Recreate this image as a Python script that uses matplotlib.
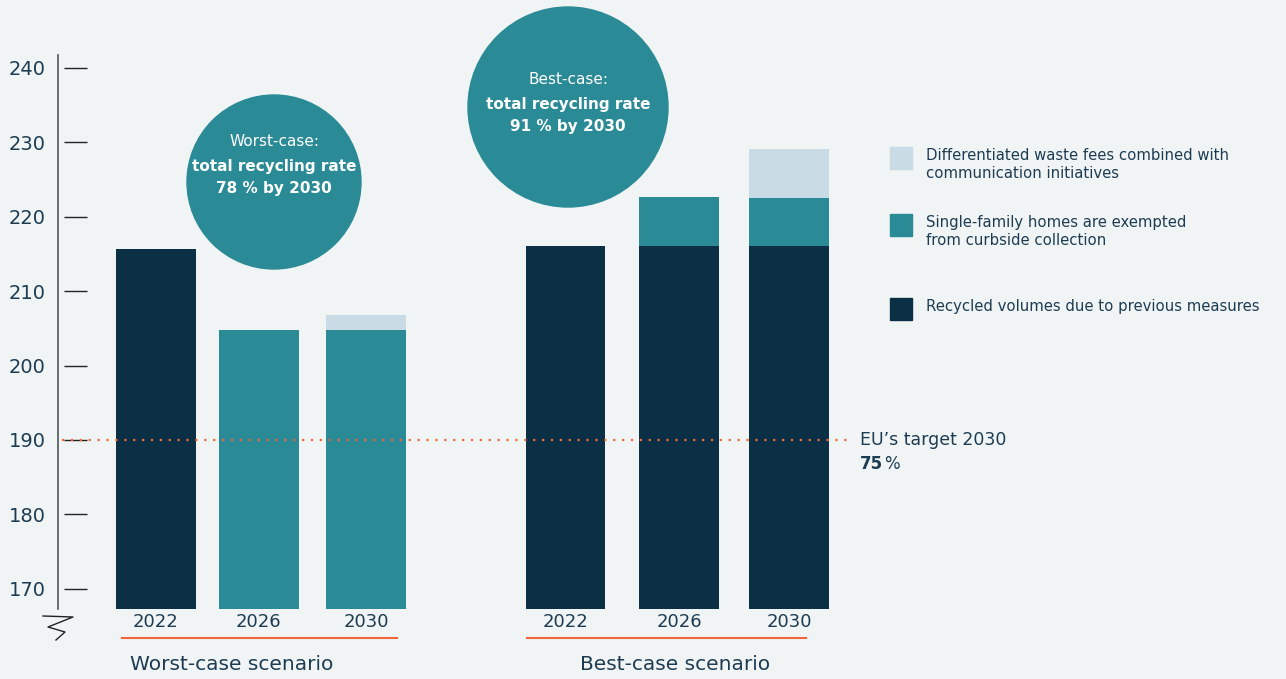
import matplotlib
matplotlib.use("Agg")
import matplotlib.pyplot as plt
from matplotlib.patches import Circle, Rectangle
import numpy as np

# data
years = ["2022", "2026", "2030", "2022", "2026", "2030"]
scenarios = ["Worst-case scenario", "Best-case scenario"]
previous = [215.7, 0, 0, 216.1, 216.0, 216.0]
exempted = [0, 204.8, 204.8, 0, 222.6, 222.5]
fees = [0, 0, 206.8, 0, 0, 229.1]
series_names = ["Differentiated waste fees combined with\ncommunication initiatives",
                "Single-family homes are exempted\nfrom curbside collection",
                "Recycled volumes due to previous measures"]
yticks = [170, 180, 190, 200, 210, 220, 230, 240]
eu_target = 190

DARK = "#0b2f45"
TEAL = "#2a8a96"
LIGHT = "#c9dbe4"
ORANGE = "#f0683a"
TXT = "#1d3c52"
BG = "#f0f4f5"

plt.rcParams['font.family'] = ['DejaVu Sans']

W, H = 1286, 679
fig = plt.figure(figsize=(W / 100, H / 100), dpi=100, facecolor=BG)

ax = fig.add_axes([58 / W, (H - 609) / H, (W - 58) / W, (609 - 55) / H])
ax.set_facecolor(BG)
pos = np.array([0, 0.98, 2.0, 3.9, 4.98, 6.03])
bw = 0.76
ax.set_xlim(-0.933, 10.76)
ax.set_ylim(167.3, 241.7)

base = 160
# stack: draw tallest first so lower segments sit on top
ax.bar(pos, np.array(fees) - base, bw, bottom=base, color=LIGHT, zorder=2)
ax.bar(pos, np.array(exempted) - base, bw, bottom=base, color=TEAL, zorder=3)
ax.bar(pos, np.array(previous) - base, bw, bottom=base, color=DARK, zorder=4)

ax.axhline(eu_target, xmin=0.003, xmax=(850 - 58) / (W - 58), color=ORANGE,
           ls=(0, (1, 3)), lw=1.6, zorder=5)

for s in ["top", "right", "bottom"]:
    ax.spines[s].set_visible(False)
ax.spines["left"].set_color("#555555")
ax.spines["left"].set_linewidth(1.2)

ax.set_yticks(yticks)
ax.set_yticklabels([str(t) for t in yticks], fontsize=14, color=TXT)
ax.tick_params(axis="y", length=0, pad=9)
ax.hlines(yticks, 6 / (W - 58), 29 / (W - 58), transform=ax.get_yaxis_transform(),
          color="#222222", lw=1)
ax.set_xticks(pos)
ax.set_xticklabels(years, fontsize=13, color=TXT)
ax.tick_params(axis="x", length=0, pad=3)

# overlay in pixel coordinates for annotations
ov = fig.add_axes([0, 0, 1, 1], facecolor="none")
ov.set_xlim(0, W)
ov.set_ylim(H, 0)
ov.set_aspect("equal")
ov.axis("off")

# axis break mark
ov.plot([43, 73, 48, 65, 56], [616, 617, 627, 632, 640], color="#222222", lw=1)

# group underlines and labels
for (x0, x1), cx, name in zip([(122, 397), (527, 806)], [232, 675], scenarios):
    ov.plot([x0, x1], [638, 638], color=ORANGE, lw=1.5)
    ov.text(cx, 664, name, fontsize=14.5, color=TXT, ha="center", va="center")

# circles
for (cx, cy, r), ty, head, l2, l3 in [((274, 182, 87), 142, "Worst-case:", "total recycling rate", "78 % by 2030"),
                                      ((568, 107, 100), 80, "Best-case:", "total recycling rate", "91 % by 2030")]:
    ov.add_patch(Circle((cx, cy), r, color=TEAL, zorder=6))
    ov.text(cx, ty, head, color="white", fontsize=11, ha="center", va="center", zorder=7)
    ov.text(cx, ty + 24, l2, color="white", fontsize=11, fontweight="bold",
            ha="center", va="center", zorder=7)
    ov.text(cx, ty + 47, l3, color="white", fontsize=11, fontweight="bold",
            ha="center", va="center", zorder=7)

# legend
for ytop, col, name in zip([147, 214, 298], [LIGHT, TEAL, DARK], series_names):
    ov.add_patch(Rectangle((890, ytop), 22, 22, color=col))
    ov.text(926, ytop + 1, name, fontsize=10.7, color=TXT, ha="left", va="top", linespacing=1.25)

# EU target label
ov.text(860, 440, "EU\u2019s target 2030", fontsize=12.5, color=TXT,
        ha="left", va="center")
ov.text(860, 464, "75", fontsize=12, color=TXT, fontweight="bold", ha="left", va="center")
ov.text(884, 464, "%", fontsize=12, color=TXT, ha="left", va="center")

fig.savefig("out.png", dpi=100, facecolor=BG)
